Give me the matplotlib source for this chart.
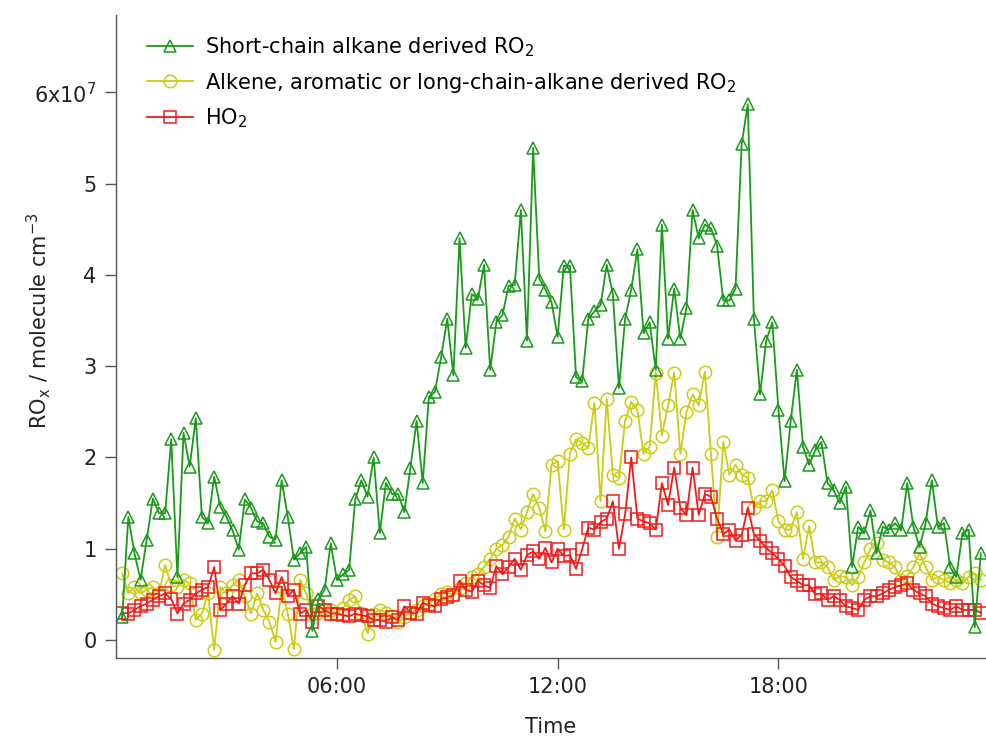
import matplotlib
matplotlib.use('Agg')
import matplotlib.pyplot as plt
import numpy as np
from matplotlib.ticker import FuncFormatter, FixedLocator

plt.rcParams['font.family'] = ['DejaVu Sans']
plt.rcParams['mathtext.default'] = 'regular'

# sampling times, 10 min steps from 00:10 (hours)
time_h = np.arange(1, 142) * 10 / 60.0

# values in units of 1e7 molecule cm-3
scale = 1e7

ro2_short = [
    0.25, 1.35, 0.95, 0.66, 1.10, 1.55, 1.39, 1.39, 2.20, 0.69,
    2.27, 1.90, 2.43, 1.35, 1.28, 1.79, 1.46, 1.35, 1.20, 0.99,
    1.54, 1.45, 1.30, 1.28, 1.13, 1.10, 1.75, 1.35, 0.88, 0.95,
    1.02, 0.10, 0.45, 0.55, 1.06, 0.66, 0.72, 0.77, 1.54, 1.75,
    1.57, 2.00, 1.17, 1.72, 1.60, 1.60, 1.40, 1.89, 2.40, 1.72,
    2.66, 2.72, 3.10, 3.52, 2.90, 4.40, 3.20, 3.79, 3.74, 4.11,
    2.96, 3.48, 3.56, 3.88, 3.89, 4.71, 3.28, 5.39, 3.96, 3.84,
    3.70, 3.32, 4.10, 4.10, 2.88, 2.84, 3.52, 3.60, 3.67, 4.11,
    3.79, 2.76, 3.52, 3.84, 4.28, 3.36, 3.48, 2.96, 4.55, 3.30,
    3.85, 3.30, 3.64, 4.71, 4.40, 4.55, 4.51, 4.32, 3.72, 3.72,
    3.85, 5.43, 5.87, 3.52, 2.69, 3.28, 3.48, 2.52, 1.74, 2.40,
    2.96, 2.12, 1.92, 2.08, 2.17, 1.72, 1.64, 1.50, 1.68, 0.80,
    1.24, 1.17, 1.42, 0.95, 1.24, 1.21, 1.28, 1.20, 1.72, 1.24,
    1.02, 1.28, 1.75, 1.24, 1.28, 0.80, 0.69, 1.17, 1.21, 0.14,
    0.95,
]

ro2_long = [
    0.73, 0.51, 0.58, 0.51, 0.55, 0.58, 0.51, 0.82, 0.60, 0.58,
    0.66, 0.62, 0.22, 0.29, 0.51, -0.11, 0.58, 0.51, 0.60, 0.66,
    0.48, 0.29, 0.51, 0.33, 0.20, -0.02, 0.58, 0.29, -0.10, 0.66,
    0.51, 0.29, 0.30, 0.33, 0.33, 0.29, 0.35, 0.44, 0.48, 0.30,
    0.07, 0.29, 0.33, 0.30, 0.26, 0.20, 0.25, 0.30, 0.33, 0.37,
    0.40, 0.45, 0.50, 0.53, 0.49, 0.57, 0.62, 0.69, 0.72, 0.80,
    0.89, 1.00, 1.04, 1.13, 1.33, 1.21, 1.40, 1.60, 1.45, 1.19,
    1.92, 1.96, 1.21, 2.04, 2.20, 2.16, 2.10, 2.60, 1.52, 2.64,
    1.81, 1.78, 2.40, 2.61, 2.52, 2.04, 2.12, 2.93, 2.24, 2.57,
    2.93, 2.04, 2.50, 2.69, 2.57, 2.94, 2.04, 1.13, 2.17, 1.81,
    1.92, 1.81, 1.78, 1.45, 1.52, 1.52, 1.64, 1.30, 1.21, 1.21,
    1.40, 0.89, 1.25, 0.85, 0.85, 0.80, 0.66, 0.70, 0.69, 0.60,
    0.69, 0.85, 1.00, 1.06, 0.88, 0.85, 0.80, 0.66, 0.70, 0.80,
    0.95, 0.80, 0.66, 0.69, 0.66, 0.62, 0.66, 0.62, 0.69, 0.73,
    0.66,
]

ho2 = [
    0.30, 0.29, 0.33, 0.37, 0.40, 0.44, 0.48, 0.51, 0.45, 0.29,
    0.40, 0.44, 0.51, 0.55, 0.58, 0.80, 0.33, 0.40, 0.48, 0.40,
    0.60, 0.73, 0.73, 0.77, 0.66, 0.51, 0.69, 0.48, 0.55, 0.29,
    0.33, 0.20, 0.37, 0.33, 0.29, 0.29, 0.27, 0.26, 0.29, 0.27,
    0.26, 0.22, 0.22, 0.20, 0.25, 0.22, 0.37, 0.30, 0.29, 0.41,
    0.38, 0.37, 0.45, 0.47, 0.49, 0.65, 0.55, 0.53, 0.65, 0.60,
    0.57, 0.81, 0.72, 0.80, 0.89, 0.77, 0.93, 0.97, 0.89, 1.01,
    0.85, 1.00, 0.92, 0.93, 0.78, 1.00, 1.23, 1.21, 1.29, 1.33,
    1.52, 1.00, 1.38, 2.00, 1.33, 1.30, 1.28, 1.21, 1.72, 1.48,
    1.89, 1.45, 1.37, 1.89, 1.37, 1.60, 1.57, 1.33, 1.16, 1.21,
    1.09, 1.15, 1.45, 1.16, 1.09, 1.01, 0.95, 0.89, 0.81, 0.69,
    0.65, 0.60, 0.60, 0.50, 0.51, 0.44, 0.48, 0.44, 0.37, 0.35,
    0.33, 0.44, 0.48, 0.48, 0.51, 0.55, 0.58, 0.60, 0.62, 0.55,
    0.51, 0.48, 0.40, 0.37, 0.35, 0.33, 0.37, 0.33, 0.33, 0.33,
    0.30,
]

labels = ['Short-chain alkane derived RO$_2$',
          'Alkene, aromatic or long-chain-alkane derived RO$_2$',
          'HO$_2$']
colors = ['#1a9a1a', '#cccc14', '#ee1c1c']
markers = ['^', 'o', 's']

fig = plt.figure(figsize=(9.86, 7.39), dpi=100)
ax = fig.add_axes([0.1177, 0.1096, 0.8823, 0.8704])

# draw yellow and red first, green on top
series = [np.array(ro2_short), np.array(ro2_long), np.array(ho2)]
handles = [None] * 3
for i in [1, 2, 0]:
    h, = ax.plot(time_h, series[i] * scale, color=colors[i], marker=markers[i],
                 markersize=9, markerfacecolor='none', markeredgewidth=1.1,
                 linewidth=1.3, label=labels[i])
    handles[i] = h

ax.set_xlim(0, 23.64)
ax.set_ylim(-0.197 * scale, 6.85 * scale)

ax.xaxis.set_major_locator(FixedLocator([6, 12, 18]))
ax.xaxis.set_major_formatter(FuncFormatter(lambda v, p: '%02d:00' % int(round(v))))

def ytick_fmt(v, p):
    n = int(round(v / scale))
    if n == 6:
        return '6x10$^{7}$'
    return str(n)

ax.yaxis.set_major_locator(FixedLocator(np.arange(0, 7) * scale))
ax.yaxis.set_major_formatter(FuncFormatter(ytick_fmt))

for side in ['top', 'right']:
    ax.spines[side].set_visible(False)
for side in ['left', 'bottom']:
    ax.spines[side].set_color('#555555')
    ax.spines[side].set_linewidth(1.0)
ax.tick_params(direction='out', length=8, width=1.0, color='#555555',
               labelsize=15, labelcolor='#222222', pad=6)

ax.set_xlabel('Time', fontsize=15, color='#222222', labelpad=14)
ax.set_ylabel('RO$_x$ / molecule cm$^{-3}$', fontsize=15, color='#222222')
ax.yaxis.set_label_coords(-0.072, 0.525)

ax.legend(handles=handles, loc='upper left', bbox_to_anchor=(0.026, 0.981),
          frameon=False, fontsize=15, handlelength=2.2, handletextpad=0.58,
          labelspacing=0.56, borderaxespad=0)

fig.savefig('out.png', dpi=100)
